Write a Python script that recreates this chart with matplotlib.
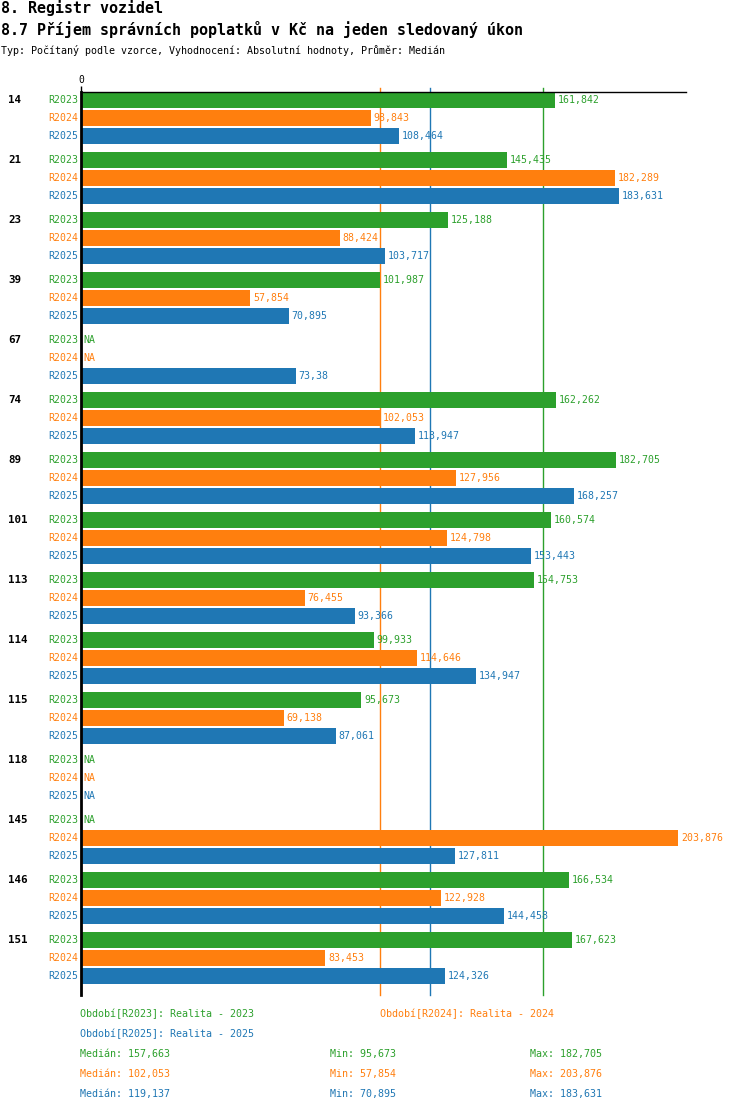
import matplotlib.pyplot as plt
import matplotlib.transforms as mtransforms
import numpy as np

# data
skupiny = ['14', '21', '23', '39', '67', '74', '89', '101', '113', '114', '115', '118', '145', '146', '151']
obdobi = ['R2023', 'R2024', 'R2025']
barvy = ['#2ca02c', '#ff7f0e', '#1f77b4']
nan = np.nan
r2023 = [161.842, 145.435, 125.188, 101.987, nan, 162.262, 182.705, 160.574, 154.753, 99.933, 95.673, nan, nan, 166.534, 167.623]
r2024 = [98.843, 182.289, 88.424, 57.854, nan, 102.053, 127.956, 124.798, 76.455, 114.646, 69.138, nan, 203.876, 122.928, 83.453]
r2025 = [108.464, 183.631, 103.717, 70.895, 73.38, 113.947, 168.257, 153.443, 93.366, 134.947, 87.061, nan, 127.811, 144.458, 124.326]
median = [157.663, 102.053, 119.137]
minimum = [95.673, 57.854, 70.895]
maximum = [182.705, 203.876, 183.631]
popisky = ['Období[R2023]: Realita - 2023', 'Období[R2024]: Realita - 2024', 'Období[R2025]: Realita - 2025']

W, H = 750, 1112
FONT = 'DejaVu Sans Mono'
plt.rcParams['font.family'] = FONT


def fmt(v):
    s = f'{v:.3f}'.rstrip('0').rstrip('.')
    return s.replace('.', ',')


fig = plt.figure(figsize=(W / 100, H / 100), dpi=100)
ax = fig.add_axes([81 / W, 1 - 995 / H, (686 - 81) / W, (995 - 92) / H])

serie = [r2023, r2024, r2025]
krok_skupina = 60
krok_rada = 18
ax.set_xlim(0, 206.5)
ax.set_ylim(895, -8)

trans = mtransforms.blended_transform_factory(fig.transFigure, ax.transData)

for i, g in enumerate(skupiny):
    y0 = i * krok_skupina
    ax.text(8 / W, y0, g, transform=trans, fontsize=7.8, fontweight='bold',
            ha='left', va='center')
    for j, s in enumerate(serie):
        y = y0 + j * krok_rada
        v = s[i]
        ax.text(78 / W, y, obdobi[j], transform=trans, fontsize=7.1, color=barvy[j],
                ha='right', va='center')
        if np.isnan(v):
            ax.annotate('NA', (0, y), xytext=(2, 0), textcoords='offset points',
                        fontsize=7.1, color=barvy[j], va='center', ha='left', zorder=4)
        else:
            ax.barh(y, v, height=16, color=barvy[j], zorder=2)
            ax.annotate(fmt(v), (v, y), xytext=(2, 0), textcoords='offset points',
                        fontsize=7.1, color=barvy[j], va='center', ha='left', zorder=4)

# median lines behind the bars
for j in range(3):
    ax.axvline(median[j], ymin=0, ymax=1 + 4 / 903, color=barvy[j], lw=1,
               zorder=1, clip_on=False)

for sp in ['right', 'bottom']:
    ax.spines[sp].set_visible(False)
ax.spines['left'].set_linewidth(2)
ax.spines['top'].set_linewidth(1)
ax.xaxis.tick_top()
ax.set_xticks([0])
ax.set_xticklabels(['0'])
ax.tick_params(axis='x', length=4, width=1, labelsize=7, pad=1)
ax.set_yticks([])

# nadpisy
fig.text(1 / W, 1 - 8 / H, '8. Registr vozidel', fontsize=10.8, fontweight='bold', va='center')
fig.text(1 / W, 1 - 30 / H, '8.7 Příjem správních poplatků v Kč na jeden sledovaný úkon',
         fontsize=10.8, fontweight='bold', va='center')
fig.text(1 / W, 1 - 50 / H, 'Typ: Počítaný podle vzorce, Vyhodnocení: Absolutní hodnoty, Průměr: Medián',
         fontsize=7.2, va='center')

# legenda
fig.text(80 / W, 1 - 1014 / H, popisky[0], fontsize=7.2, color=barvy[0], va='center')
fig.text(380 / W, 1 - 1014 / H, popisky[1], fontsize=7.2, color=barvy[1], va='center')
fig.text(80 / W, 1 - 1034 / H, popisky[2], fontsize=7.2, color=barvy[2], va='center')
for j in range(3):
    yy = 1 - (1054 + 20 * j) / H
    fig.text(80 / W, yy, 'Medián: ' + fmt(median[j]), fontsize=7.2, color=barvy[j], va='center')
    fig.text(330 / W, yy, 'Min: ' + fmt(minimum[j]), fontsize=7.2, color=barvy[j], va='center')
    fig.text(530 / W, yy, 'Max: ' + fmt(maximum[j]), fontsize=7.2, color=barvy[j], va='center')

fig.savefig('out.png', dpi=100)
